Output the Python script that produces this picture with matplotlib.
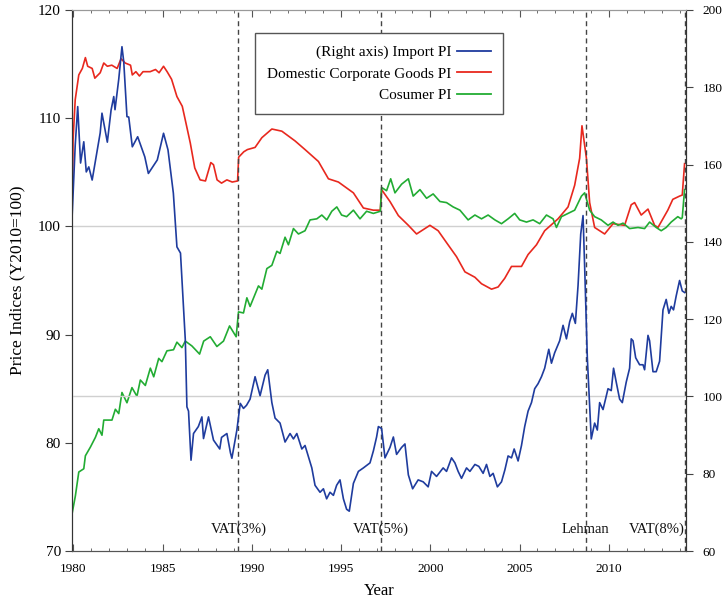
import numpy as np
import matplotlib
matplotlib.use("Agg")
import matplotlib.pyplot as plt
from matplotlib.lines import Line2D
from matplotlib.ticker import MultipleLocator

plt.rcParams["font.family"] = ["Liberation Serif", "DejaVu Serif"]

# ---- data (year, index) ----
CGPI_YEAR = [1979.95, 1979.98, 1980.1, 1980.3, 1980.5, 1980.67, 1980.8, 1981.05, 1981.2, 1981.5,
             1981.7, 1981.9, 1982.15, 1982.45, 1982.67, 1982.9, 1983.2, 1983.3, 1983.5, 1983.7,
             1983.9, 1984.3, 1984.6, 1984.8, 1985.05, 1985.25, 1985.5, 1985.8, 1986.1, 1986.3,
             1986.55, 1986.8, 1987.1, 1987.4, 1987.7, 1987.85, 1988.05, 1988.3, 1988.6, 1988.9,
             1989.2, 1989.26, 1989.55, 1989.75, 1990.18, 1990.56, 1991.12, 1991.68, 1992.42, 1992.98,
             1993.73, 1994.29, 1994.85, 1995.69, 1996.25, 1996.81, 1997.2, 1997.27, 1997.74, 1998.21,
             1998.77, 1999.23, 1999.98, 2000.44, 2000.91, 2001.47, 2001.94, 2002.5, 2002.87, 2003.43,
             2003.8, 2004.17, 2004.55, 2005.11, 2005.48, 2005.95, 2006.41, 2007.16, 2007.72, 2008.09,
             2008.37, 2008.5, 2008.75, 2008.93, 2009.21, 2009.77, 2010.24, 2010.89, 2011.26, 2011.45,
             2011.82, 2012.2, 2012.57, 2012.76, 2013.31, 2013.59, 2013.97, 2014.12, 2014.25]
CGPI_VAL = [103.5, 108.0, 111.7, 114.0, 114.6, 115.6, 114.8, 114.6, 113.7, 114.2,
            115.1, 114.8, 114.9, 114.6, 115.5, 115.1, 114.9, 114.0, 114.3, 113.9,
            114.3, 114.3, 114.5, 114.2, 114.8, 114.3, 113.6, 112.0, 111.1, 109.6,
            107.7, 105.4, 104.3, 104.2, 105.9, 105.7, 104.3, 104.0, 104.3, 104.1,
            104.2, 106.4, 106.9, 107.1, 107.3, 108.2, 109.0, 108.8, 107.9, 107.1,
            106.0, 104.4, 104.1, 103.1, 101.7, 101.5, 101.5, 103.4, 102.3, 101.0,
            100.1, 99.3, 100.1, 99.6, 98.5, 97.2, 95.8, 95.3, 94.7, 94.2,
            94.4, 95.2, 96.3, 96.3, 97.4, 98.3, 99.6, 100.7, 101.8, 103.8,
            106.3, 109.3, 106.3, 102.2, 99.9, 99.3, 100.25, 100.1, 102.0, 102.2,
            101.05, 101.6, 100.1, 99.9, 101.5, 102.5, 102.8, 102.9, 105.8]

CPI_YEAR = [1979.93, 1980.11, 1980.3, 1980.58, 1980.67, 1980.95, 1981.23, 1981.42, 1981.6, 1981.7,
            1982.16, 1982.35, 1982.54, 1982.72, 1983.0, 1983.28, 1983.56, 1983.75, 1984.03, 1984.31,
            1984.5, 1984.78, 1984.96, 1985.24, 1985.61, 1985.8, 1986.08, 1986.27, 1986.64, 1987.07,
            1987.3, 1987.67, 1988.04, 1988.41, 1988.75, 1989.12, 1989.25, 1989.53, 1989.72, 1989.9,
            1990.37, 1990.56, 1990.84, 1991.12, 1991.4, 1991.58, 1991.86, 1992.05, 1992.33, 1992.61,
            1992.98, 1993.26, 1993.64, 1993.92, 1994.2, 1994.48, 1994.76, 1995.03, 1995.31, 1995.69,
            1996.06, 1996.43, 1996.81, 1997.2, 1997.27, 1997.55, 1997.78, 1998.02, 1998.39, 1998.77,
            1999.04, 1999.42, 1999.79, 2000.16, 2000.54, 2000.91, 2001.28, 2001.66, 2002.12, 2002.5,
            2002.87, 2003.24, 2003.62, 2003.99, 2004.36, 2004.73, 2005.01, 2005.39, 2005.76, 2006.13,
            2006.51, 2006.88, 2007.07, 2007.35, 2007.72, 2008.09, 2008.47, 2008.65, 2008.93, 2009.21,
            2009.58, 2009.96, 2010.24, 2010.52, 2010.8, 2011.17, 2011.64, 2012.01, 2012.29, 2012.66,
            2012.94, 2013.22, 2013.5, 2013.87, 2014.06, 2014.12, 2014.25]
CPI_VAL = [73.5, 75.1, 77.3, 77.6, 78.8, 79.6, 80.5, 81.3, 80.7, 82.1,
           82.1, 83.1, 82.7, 84.65, 83.7, 85.1, 84.3, 85.8, 85.3, 86.9,
           86.1, 87.8, 87.5, 88.5, 88.6, 89.3, 88.8, 89.4, 88.95, 88.2,
           89.4, 89.8, 88.9, 89.4, 90.8, 89.8, 92.1, 92.0, 93.4, 92.6,
           94.5, 94.2, 96.1, 96.4, 97.7, 97.5, 99.0, 98.3, 99.8, 99.3,
           99.6, 100.6, 100.7, 101.05, 100.6, 101.4, 101.8, 101.05, 100.9, 101.5,
           100.7, 101.4, 101.2, 101.4, 103.6, 103.3, 104.4, 103.1, 103.9, 104.4,
           102.8, 103.4, 102.6, 103.0, 102.3, 102.2, 101.8, 101.5, 100.6, 101.05,
           100.7, 101.05, 100.6, 100.25, 100.7, 101.2, 100.6, 100.4, 100.6, 100.25,
           101.05, 100.7, 99.9, 100.9, 101.2, 101.5, 102.8, 103.1, 101.5, 100.9,
           100.6, 100.1, 100.4, 100.1, 100.3, 99.8, 99.9, 99.8, 100.4, 99.9,
           99.6, 99.9, 100.4, 100.9, 100.7, 100.8, 103.4]

IMPORT_YEAR = [1979.93, 1980.1, 1980.24, 1980.4, 1980.58, 1980.72, 1980.86, 1981.05, 1981.5, 1981.6,
               1981.9, 1982.11, 1982.26, 1982.33, 1982.54, 1982.72, 1982.82, 1983.0, 1983.1, 1983.3,
               1983.6, 1984.0, 1984.2, 1984.7, 1985.05, 1985.3, 1985.6, 1985.8, 1986.0, 1986.27,
               1986.36, 1986.45, 1986.59, 1986.73, 1987.0, 1987.2, 1987.29, 1987.57, 1987.85, 1988.0,
               1988.2, 1988.3, 1988.6, 1988.8, 1988.88, 1989.16, 1989.35, 1989.53, 1989.7, 1989.9,
               1990.18, 1990.46, 1990.74, 1990.89, 1991.12, 1991.3, 1991.58, 1991.86, 1992.14, 1992.33,
               1992.52, 1992.8, 1992.98, 1993.36, 1993.54, 1993.82, 1994.01, 1994.19, 1994.38, 1994.57,
               1994.75, 1994.94, 1995.13, 1995.31, 1995.46, 1995.69, 1995.97, 1996.25, 1996.62, 1996.81,
               1996.99, 1997.09, 1997.27, 1997.46, 1997.74, 1997.93, 1998.11, 1998.39, 1998.58, 1998.77,
               1999.01, 1999.32, 1999.6, 1999.88, 2000.07, 2000.35, 2000.72, 2000.91, 2001.19, 2001.38,
               2001.56, 2001.75, 2002.03, 2002.22, 2002.5, 2002.72, 2002.96, 2003.15, 2003.34, 2003.52,
               2003.76, 2003.99, 2004.18, 2004.36, 2004.55, 2004.7, 2004.92, 2005.11, 2005.29, 2005.48,
               2005.67, 2005.85, 2006.04, 2006.23, 2006.41, 2006.64, 2006.79, 2006.97, 2007.25, 2007.44,
               2007.63, 2007.81, 2007.96, 2008.13, 2008.28, 2008.43, 2008.56, 2008.65, 2008.8, 2008.93,
               2009.02, 2009.21, 2009.36, 2009.49, 2009.68, 2009.96, 2010.14, 2010.27, 2010.42, 2010.61,
               2010.76, 2010.98, 2011.17, 2011.26, 2011.36, 2011.51, 2011.73, 2011.92, 2012.01, 2012.2,
               2012.29, 2012.48, 2012.66, 2012.85, 2013.04, 2013.22, 2013.37, 2013.5, 2013.63, 2013.78,
               2013.97, 2014.12, 2014.25]
IMPORT_VAL = [147.0, 165.0, 175.0, 160.4, 165.9, 158.1, 159.4, 156.0, 168.2, 173.3,
              165.8, 174.1, 177.6, 174.2, 182.1, 190.5, 186.6, 172.4, 172.3, 164.6,
              167.2, 162.0, 157.7, 161.2, 168.1, 163.8, 152.6, 138.7, 137.1, 114.6,
              97.3, 96.2, 83.5, 90.4, 92.2, 94.7, 89.1, 94.7, 88.7, 87.7,
              86.4, 89.4, 90.4, 85.4, 84.0, 91.3, 98.2, 96.9, 97.7, 99.3,
              105.1, 100.2, 105.5, 106.9, 98.4, 94.4, 93.1, 88.2, 90.4, 89.0,
              90.4, 86.4, 87.3, 81.5, 77.0, 75.2, 76.1, 73.5, 75.2, 74.4,
              77.0, 78.4, 73.5, 70.8, 70.3, 77.5, 80.6, 81.5, 82.8, 85.9,
              89.5, 92.2, 91.7, 84.1, 86.8, 89.5, 85.0, 86.8, 87.7, 79.7,
              76.1, 78.4, 77.9, 76.6, 80.6, 79.3, 81.5, 80.6, 84.1, 82.8,
              80.6, 78.8, 81.5, 80.6, 82.4, 81.9, 80.1, 82.4, 79.3, 80.1,
              76.6, 77.9, 81.0, 84.6, 84.1, 86.4, 83.3, 87.3, 92.2, 96.2,
              98.4, 102.0, 103.3, 105.1, 107.3, 112.2, 108.6, 111.3, 114.4, 118.4,
              114.9, 119.3, 121.5, 118.9, 128.7, 142.0, 146.8, 133.6, 110.0, 97.5,
              89.0, 93.1, 91.3, 98.4, 96.6, 102.0, 101.5, 107.3, 103.7, 99.3,
              98.4, 103.7, 107.3, 114.9, 114.4, 110.0, 108.2, 108.2, 106.9, 115.8,
              114.4, 106.4, 106.4, 109.1, 122.4, 125.1, 121.5, 123.3, 122.4, 126.0,
              130.0, 127.3, 126.9]

EVENT_YEAR = [1989.25, 1997.25, 2008.7, 2014.25]
EVENT_LABEL = ["VAT(3%)", "VAT(5%)", "Lehman", "VAT(8%)"]
EVENT_HA = ["center", "center", "center", "right"]

C_IMP, C_CGPI, C_CPI = "#1f3c9e", "#e8281e", "#22ac33"

fig = plt.figure(figsize=(7.22, 6.02), dpi=100)
ax = fig.add_axes([72 / 722, 51 / 602, 614 / 722, 541 / 602])
ax2 = ax.twinx()

# light reference lines: left 100 and right 100
ax.axhline(100, color="#d0d0d0", lw=1.0, zorder=0)
ax2.axhline(100, color="#d0d0d0", lw=1.0, zorder=0)

ax.plot(CGPI_YEAR, CGPI_VAL, color=C_CGPI, lw=1.2)
ax.plot(CPI_YEAR, CPI_VAL, color=C_CPI, lw=1.2)
ax2.plot(IMPORT_YEAR, IMPORT_VAL, color=C_IMP, lw=1.2)

for yr, lab, ha in zip(EVENT_YEAR, EVENT_LABEL, EVENT_HA):
    ax.axvline(yr, color="#444444", lw=1.0, ls=(0, (3.6, 2.6)))
    ax.text(yr, 72.0, lab, ha=ha, va="center", fontsize=10.5, color="#111111")

ax.set_xlim(1979.92, 2014.33)
ax.set_ylim(70, 120)
ax2.set_ylim(60, 200)

ax.set_xticks(range(1980, 2015, 5))
ax.xaxis.set_minor_locator(MultipleLocator(1))
ax.set_yticks(range(70, 121, 10))
ax2.set_yticks(range(60, 201, 20))

ax.tick_params(axis="x", which="both", direction="in", top=True, bottom=True,
               labelsize=9.5, pad=8.5, color="#555555")
ax.tick_params(axis="x", which="major", length=5)
ax.tick_params(axis="x", which="minor", length=2.5)
ax.tick_params(axis="y", direction="out", length=5, labelsize=11, pad=3, color="#444444")
ax2.tick_params(axis="y", direction="out", length=5, labelsize=9.5, pad=7, color="#444444")

for a in (ax, ax2):
    a.spines["left"].set_color("#333333")
    a.spines["right"].set_color("#333333")
    a.spines["top"].set_color("#999999")
    a.spines["bottom"].set_color("#555555")

ax.set_ylabel("Price Indices (Y2010=100)", fontsize=12.5)
ax.yaxis.set_label_coords(-47 / 614, 0.5)
ax.set_xlabel("Year", fontsize=12)
ax.xaxis.set_label_coords(0.5, -32 / 541)

handles = [Line2D([], [], color=C_IMP, lw=1.3),
           Line2D([], [], color=C_CGPI, lw=1.3),
           Line2D([], [], color=C_CPI, lw=1.3)]
labels = ["(Right axis) Import PI", "Domestic Corporate Goods PI", "Cosumer PI"]
leg = ax2.legend(handles, labels, loc="upper center", bbox_to_anchor=(0.5, 0.971),
                 markerfirst=False, fontsize=11, handlelength=2.2, handletextpad=0.4,
                 labelspacing=0.5, borderpad=0.8, fancybox=False, framealpha=1,
                 edgecolor="#555555")
leg.get_frame().set_linewidth(1.0)
for col in leg._legend_handle_box.get_children():
    col.align = "right"

fig.savefig("out.png", dpi=100)
